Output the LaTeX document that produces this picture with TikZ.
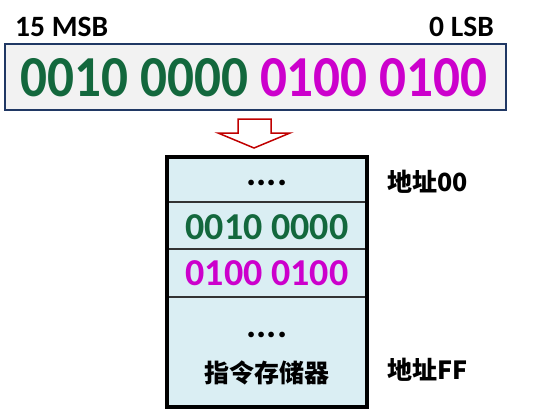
\documentclass[tikz,border=0pt]{standalone}
\usepackage{fontspec}
\setmainfont{Carlito}
\newfontfamily\cjk{Noto Sans CJK SC}
\definecolor{cgreen}{HTML}{13683D}
\definecolor{cmag}{HTML}{CC00CC}
\definecolor{cnavy}{HTML}{203864}
\definecolor{cgray}{HTML}{F2F2F2}
\definecolor{cblue}{HTML}{DAEEF3}
\definecolor{cred}{HTML}{C00000}
\begin{document}
\begin{tikzpicture}[x=1pt,y=-1pt,
  lbl/.style={font=\fontsize{29.5}{31}\selectfont\bfseries, inner sep=0pt},
  big/.style={font=\fontsize{58}{62}\selectfont\bfseries, inner sep=0pt},
  row/.style={font=\fontsize{38}{40}\selectfont\bfseries, inner sep=0pt},
  cj/.style={font=\fontsize{25}{28}\selectfont\bfseries\cjk, inner sep=0pt},
  addr/.style={font=\fontsize{25}{28}\selectfont\bfseries\cjk, inner sep=0pt, anchor=west}]
\useasboundingbox[fill=white] (0,0) rectangle (557,412);
% register
\draw[cnavy, line width=1.6pt, fill=cgray] (5,44) rectangle (506,110);
\node[lbl, anchor=base west] (msb) at (15,37) {15 MSB};
\node[lbl, anchor=base east] (lsb) at (494,37) {0 LSB};
\node[big] (word) at (254,77.5) {\scalebox{0.917}[1]{\textcolor{cgreen}{0010 0000} \textcolor{cmag}{0100 0100}}};
% arrow
\draw[cred, line width=1.5pt, fill=white, line join=miter]
  (238,119) -- (271,119) -- (271,133) -- (290,133) -- (254,148) -- (218,133) -- (238,133) -- cycle;
% memory
\fill[cblue] (167,157) rectangle (367,407);
\draw[black!80, line width=1.6pt] (167,202) -- (367,202);
\draw[black!80, line width=1.6pt] (167,249) -- (367,249);
\draw[black!80, line width=1.6pt] (167,297) -- (367,297);
\draw[black, line width=3.5pt] (167,157) rectangle (367,407);
\node[row] (d1) at (267,183) {....};
\node[row, text=cgreen] (r1) at (267,227) {0010 0000};
\node[row, text=cmag] (r2) at (267,273) {0100 0100};
\node[row] (d2) at (267,335) {....};
\node[cj] (mem) at (267,373) {指令存储器};
\node[addr] (a0) at (387,182) {地址00};
\node[addr] (af) at (387,370) {地址FF};
\end{tikzpicture}
\end{document}
